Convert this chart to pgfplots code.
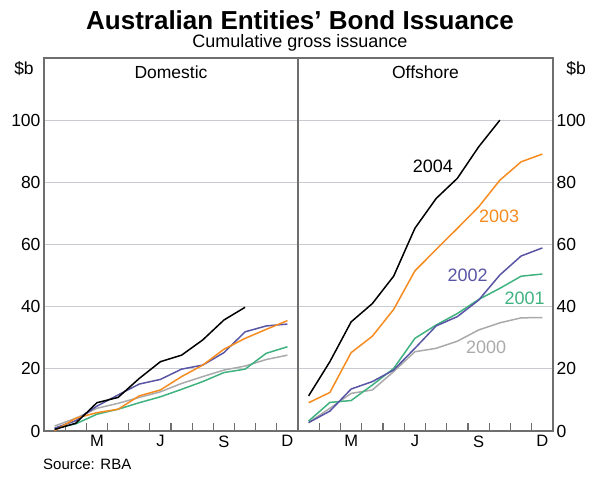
\documentclass[border=0pt]{standalone}
\usepackage{fontspec}
\setmainfont{Liberation Sans}
\usepackage{pgfplots}
\usepackage{pgfplotstable}
\pgfplotsset{compat=1.18}

\definecolor{frame}{RGB}{110,110,110}
\definecolor{grid}{RGB}{200,203,207}
\definecolor{c2000}{RGB}{170,170,172}
\definecolor{c2001}{RGB}{64,178,128}
\definecolor{c2002}{RGB}{88,86,164}
\definecolor{c2003}{RGB}{246,139,31}
\definecolor{c2004}{RGB}{0,0,0}

% month centre, cumulative gross issuance ($b), 2000 ... 2004
\pgfplotstableread{
m    y00  y01  y02  y03  y04
0.5  1.6  0.8  0.9  0.1  0.5
1.5  4.1  2.3  3.3  4.1  2.5
2.5  7.3  5.4  8.0  5.9  9.1
3.5  8.9  7.0  11.6 7.0  10.8
4.5  10.8 9.1  15.1 11.3 16.9
5.5  12.6 11.0 16.6 13.2 22.3
6.5  15.3 13.4 19.9 17.5 24.4
7.5  17.5 15.9 21.2 21.2 29.3
8.5  19.6 18.8 25.2 26.3 35.7
9.5  20.9 19.9 31.9 29.8 39.8
10.5 23.0 25.0 33.8 32.7 nan
11.5 24.4 27.1 34.4 35.5 nan
}\domestic

\pgfplotstableread{
m    y00  y01  y02  y03  y04
0.5  2.7  3.2  2.7  9.1  11.3
1.5  7.3  9.2  6.4  12.4 22.3
2.5  12.1 9.8  13.5 25.2 35.1
3.5  13.2 14.8 15.9 30.5 41.0
4.5  19.1 20.1 19.6 39.1 49.8
5.5  25.5 29.8 26.6 51.5 65.2
6.5  26.6 34.1 33.8 58.4 74.8
7.5  28.9 37.8 36.8 65.2 81.3
8.5  32.5 42.3 42.1 72.1 91.4
9.5  34.8 45.9 50.2 80.7 100.0
10.5 36.4 49.8 56.3 86.6 nan
11.5 36.5 50.5 58.9 89.1 nan
}\offshore

\pgfplotsset{
  panel/.style={
    scale only axis, anchor=south west,
    width=254pt, height=373pt,
    xmin=0, xmax=12, ymin=0, ymax=120,
    ytick={0,20,...,100},
    ymajorgrids,
    grid style={draw=grid, line width=1pt},
    axis line style={draw=frame, line width=1.2pt},
    xtick={2.5,5.5,8.5,11.5},
    xticklabels={M,J,S,D},
    minor xtick={1,...,11},
    xtick pos=bottom,
    major tick length=0pt,
    minor tick length=8pt,
    tick align=inside,
    minor tick style={draw=frame, line width=1.1pt},
    xticklabel style={font=\fontsize{16.5}{18}\selectfont, yshift=-1pt},
    yticklabel style={font=\fontsize{17.5}{19}\selectfont},
    /pgf/number format/assume math mode=true,
    unbounded coords=jump,
    clip=false,
    every axis plot/.append style={line width=1.5pt, mark=none},
  },
}

\begin{document}
\begin{tikzpicture}
\useasboundingbox (0,0) rectangle (600pt,484pt);

\begin{axis}[panel, at={(44pt,53pt)}]
  \addplot[c2000] table[x=m, y=y00] {\domestic};
  \addplot[c2001] table[x=m, y=y01] {\domestic};
  \addplot[c2002] table[x=m, y=y02] {\domestic};
  \addplot[c2003] table[x=m, y=y03] {\domestic};
  \addplot[c2004] table[x=m, y=y04] {\domestic};
  \node[font=\fontsize{17.5}{19}\selectfont, anchor=base] at (axis cs:6,113.3) {Domestic};
\end{axis}

\begin{axis}[panel, at={(298pt,53pt)}, width=255pt, yticklabel pos=right]
  \addplot[c2000] table[x=m, y=y00] {\offshore};
  \addplot[c2001] table[x=m, y=y01] {\offshore};
  \addplot[c2002] table[x=m, y=y02] {\offshore};
  \addplot[c2003] table[x=m, y=y03] {\offshore};
  \addplot[c2004] table[x=m, y=y04] {\offshore};
  \node[font=\fontsize{17.5}{19}\selectfont, anchor=base] at (axis cs:6,113.3) {Offshore};
  \begin{scope}[font=\fontsize{18}{20}\selectfont]
    \node[c2004] at (axis cs:6.35,85.3) {2004};
    \node[c2003] at (axis cs:9.46,69.2) {2003};
    \node[c2002] at (axis cs:7.98,50.2) {2002};
    \node[c2001] at (axis cs:10.66,42.8) {2001};
    \node[c2000] at (axis cs:8.85,27.0) {2000};
  \end{scope}
\end{axis}

\node[font=\bfseries\fontsize{26}{28}\selectfont, anchor=base, inner sep=0pt] at (300pt,454pt) {Australian Entities’ Bond Issuance};
\node[font=\fontsize{18}{20}\selectfont, anchor=base, inner sep=0pt] at (300pt,436pt) {Cumulative gross issuance};
\node[font=\fontsize{17.5}{19}\selectfont, anchor=base] at (24pt,409pt) {\$b};
\node[font=\fontsize{17.5}{19}\selectfont, anchor=base] at (576pt,409pt) {\$b};
\node[font=\fontsize{15}{17}\selectfont, anchor=base west, inner sep=0pt] at (43pt,14pt) {Source: RBA};
\end{tikzpicture}
\end{document}
